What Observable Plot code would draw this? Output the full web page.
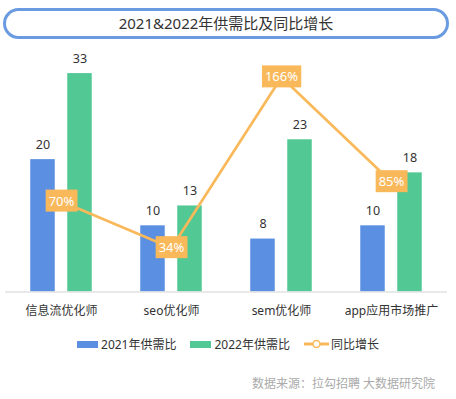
<!DOCTYPE html>
<html>
<head>
<meta charset="utf-8">
<script src="https://cdn.jsdelivr.net/npm/d3@7"></script>
<script src="https://cdn.jsdelivr.net/npm/@observablehq/plot@0.6"></script>
<style>
  html, body { margin: 0; padding: 0; background: #fff; }
  body { width: 456px; height: 399px; position: relative; overflow: hidden;
         font-family: "Noto Sans", "Noto Sans CJK SC", sans-serif; }
  #title { position: absolute; left: 3px; top: 8px; width: 440px; height: 25px;
           border: 3px solid #6a9ae0; border-radius: 16px; text-align: center;
           font-size: 15px; line-height: 25px; color: #333; }
  #chart { position: absolute; left: 0; top: 45px; }
  #legend { position: absolute; left: 0; top: 335px; width: 456px; display: flex;
            justify-content: center; align-items: center; font-size: 12px; color: #333; }
  .item { display: flex; align-items: center; margin: 0 7px; }
  .sw { width: 21px; height: 7px; margin-right: 3px; }
  #source { position: absolute; right: 21px; top: 374px; font-size: 12px; color: #aaa; }
</style>
</head>
<body>
<div id="title"></div>
<div id="chart"></div>
<div id="legend"></div>
<div id="source"></div>
<script>
const titleText = "2021&2022年供需比及同比增长";
const sourceText = "数据来源：拉勾招聘 大数据研究院";
const categories = ["信息流优化师", "seo优化师", "sem优化师", "app应用市场推广"];
const values2021 = [20, 10, 8, 10];
const values2022 = [33, 13, 23, 18];
const growthPct = [70, 34, 166, 85];
const seriesNames = ["2021年供需比", "2022年供需比", "同比增长"];
const colors = ["#5b8fe2", "#52c894", "#f9b95a"];

const barMax = 34.6;   // left axis max
const pctMax = 177;    // right axis max (shares baseline)
const toBar = p => p * barMax / pctMax;

const rows = categories.map((c, i) => ({
  cat: c, v21: values2021[i], v22: values2022[i], pct: growthPct[i]
}));

document.getElementById("title").textContent = titleText;
document.getElementById("source").textContent = sourceText;

const chart = Plot.plot({
  width: 456,
  height: 280,
  marginLeft: 5,
  marginRight: 9,
  marginTop: 17.5,
  marginBottom: 33.5,
  style: { fontFamily: "'Noto Sans', 'Noto Sans CJK SC', sans-serif", fontSize: "12px", color: "#333", background: "transparent" },
  x: { domain: categories, padding: 0, label: null, tickSize: 0, tickPadding: 14 },
  y: { domain: [0, barMax], axis: null },
  marks: [
    Plot.barY(rows, { x: "cat", y: "v21", fill: colors[0], insetLeft: 24.25, insetRight: 61.25 }),
    Plot.barY(rows, { x: "cat", y: "v22", fill: colors[1], insetLeft: 61.25, insetRight: 24.25 }),
    Plot.ruleY([0], { stroke: "#e2e2e2", strokeWidth: 1.5 }),
    Plot.text(rows, { x: "cat", y: "v21", text: d => String(d.v21), dx: -18.5, dy: -15, fill: "#333", fontSize: 12.5 }),
    Plot.text(rows, { x: "cat", y: "v22", text: d => String(d.v22), dx: 18.5, dy: -15, fill: "#333", fontSize: 12.5 }),
    Plot.line(rows, { x: "cat", y: d => toBar(d.pct), stroke: colors[2], strokeWidth: 2.7 }),
    Plot.text(rows, { x: "cat", y: d => toBar(d.pct), text: d => d.pct + "%", fill: "#fff", fontSize: 13 })
  ]
});
document.getElementById("chart").append(chart);

// label boxes behind percentage texts
Array.from(chart.querySelectorAll("text"))
  .filter(t => /%$/.test(t.textContent.trim()))
  .forEach(t => {
    const b = t.getBBox();
    const cy = b.y + b.height / 2;
    const r = document.createElementNS("http://www.w3.org/2000/svg", "rect");
    r.setAttribute("x", b.x - 3);
    r.setAttribute("width", b.width + 6);
    r.setAttribute("y", cy - 11);
    r.setAttribute("height", 22);
    r.setAttribute("fill", colors[2]);
    if (t.getAttribute("transform")) r.setAttribute("transform", t.getAttribute("transform"));
    t.parentNode.insertBefore(r, t);
  });

// legend
const legend = document.getElementById("legend");
seriesNames.forEach((name, i) => {
  const item = document.createElement("div");
  item.className = "item";
  if (i < 2) {
    const sw = document.createElement("div");
    sw.className = "sw";
    sw.style.background = colors[i];
    item.append(sw);
  } else {
    const svg = d3.create("svg").attr("width", 25).attr("height", 10).style("margin-right", "2px");
    svg.append("line").attr("x1", 0).attr("x2", 25).attr("y1", 5).attr("y2", 5)
      .attr("stroke", colors[2]).attr("stroke-width", 3);
    svg.append("circle").attr("cx", 12.5).attr("cy", 5).attr("r", 3.5)
      .attr("fill", "#fff").attr("stroke", colors[2]).attr("stroke-width", 1.5);
    item.append(svg.node());
  }
  const s = document.createElement("span");
  s.textContent = name;
  item.append(s);
  legend.append(item);
});
</script>
</body>
</html>
